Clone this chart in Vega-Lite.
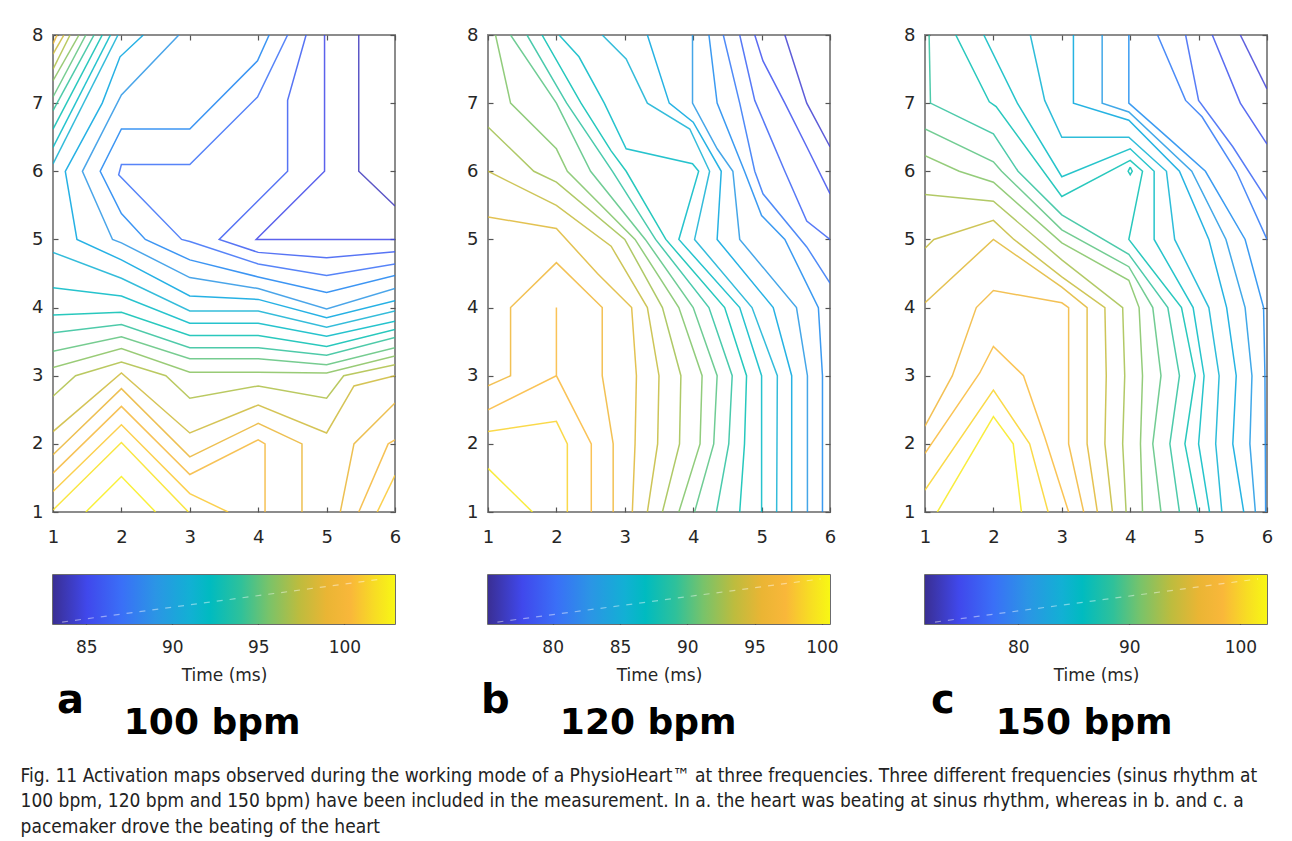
{
"$schema": "https://vega.github.io/schema/vega-lite/v6.json",
"background": "white",
"padding": {"left": 20, "top": 25, "right": 10, "bottom": 5},
"config": {"view": {"stroke": null}, "font": "DejaVu Sans"},
"datasets": {
"a": [
{"id":"a84","v":84,"x":5.47,"y":8},{"id":"a84","v":84,"x":5.47,"y":6},{"id":"a84","v":84,"x":6,"y":5.49},
{"id":"a85","v":85,"x":4.97,"y":8},{"id":"a85","v":85,"x":4.97,"y":6},{"id":"a85","v":85,"x":3.97,"y":5},{"id":"a85","v":85,"x":6,"y":5},
{"id":"a86","v":86,"x":4.7,"y":8},{"id":"a86","v":86,"x":4.43,"y":7.04},{"id":"a86","v":86,"x":4.43,"y":6},{"id":"a86","v":86,"x":3.43,"y":5},{"id":"a86","v":86,"x":4,"y":4.81},{"id":"a86","v":86,"x":5,"y":4.73},{"id":"a86","v":86,"x":6,"y":4.82},
{"id":"a87","v":87,"x":4.43,"y":8},{"id":"a87","v":87,"x":3.99,"y":7.09},{"id":"a87","v":87,"x":3,"y":6.1},{"id":"a87","v":87,"x":2,"y":6.1},{"id":"a87","v":87,"x":1.96,"y":5.95},{"id":"a87","v":87,"x":2.88,"y":5},{"id":"a87","v":87,"x":3,"y":4.97},{"id":"a87","v":87,"x":4,"y":4.64},{"id":"a87","v":87,"x":5,"y":4.47},{"id":"a87","v":87,"x":6,"y":4.64},
{"id":"a88","v":88,"x":4.16,"y":8},{"id":"a88","v":88,"x":3.99,"y":7.62},{"id":"a88","v":88,"x":3,"y":6.62},{"id":"a88","v":88,"x":2,"y":6.62},{"id":"a88","v":88,"x":1.69,"y":6},{"id":"a88","v":88,"x":2,"y":5.38},{"id":"a88","v":88,"x":2.35,"y":5},{"id":"a88","v":88,"x":3,"y":4.7},{"id":"a88","v":88,"x":4,"y":4.45},{"id":"a88","v":88,"x":5,"y":4.22},{"id":"a88","v":88,"x":6,"y":4.47},
{"id":"a89","v":89,"x":2.84,"y":8},{"id":"a89","v":89,"x":2,"y":7.12},{"id":"a89","v":89,"x":1.43,"y":6},{"id":"a89","v":89,"x":1.87,"y":5},{"id":"a89","v":89,"x":2,"y":4.95},{"id":"a89","v":89,"x":3,"y":4.44},{"id":"a89","v":89,"x":4,"y":4.28},{"id":"a89","v":89,"x":5,"y":3.98},{"id":"a89","v":89,"x":6,"y":4.28},
{"id":"a90","v":90,"x":2.32,"y":8},{"id":"a90","v":90,"x":1.98,"y":7.68},{"id":"a90","v":90,"x":1.72,"y":7},{"id":"a90","v":90,"x":1.18,"y":6},{"id":"a90","v":90,"x":1.35,"y":5},{"id":"a90","v":90,"x":2,"y":4.7},{"id":"a90","v":90,"x":3,"y":4.17},{"id":"a90","v":90,"x":4,"y":4.12},{"id":"a90","v":90,"x":5,"y":3.85},{"id":"a90","v":90,"x":6,"y":4.1},
{"id":"a91","v":91,"x":1,"y":4.81},{"id":"a91","v":91,"x":2,"y":4.43},{"id":"a91","v":91,"x":3,"y":3.95},{"id":"a91","v":91,"x":4,"y":3.95},{"id":"a91","v":91,"x":5,"y":3.71},{"id":"a91","v":91,"x":6,"y":3.95},
{"id":"a92","v":92,"x":1,"y":4.29},{"id":"a92","v":92,"x":2,"y":4.17},{"id":"a92","v":92,"x":3,"y":3.77},{"id":"a92","v":92,"x":4,"y":3.77},{"id":"a92","v":92,"x":5,"y":3.58},{"id":"a92","v":92,"x":6,"y":3.8},
{"id":"a93","v":93,"x":1,"y":3.89},{"id":"a93","v":93,"x":2,"y":3.93},{"id":"a93","v":93,"x":3,"y":3.59},{"id":"a93","v":93,"x":4,"y":3.59},{"id":"a93","v":93,"x":5,"y":3.43},{"id":"a93","v":93,"x":6,"y":3.68},
{"id":"a94","v":94,"x":1,"y":3.63},{"id":"a94","v":94,"x":2,"y":3.75},{"id":"a94","v":94,"x":3,"y":3.41},{"id":"a94","v":94,"x":4,"y":3.41},{"id":"a94","v":94,"x":5,"y":3.3},{"id":"a94","v":94,"x":6,"y":3.56},
{"id":"a95","v":95,"x":1,"y":3.36},{"id":"a95","v":95,"x":2,"y":3.57},{"id":"a95","v":95,"x":3,"y":3.25},{"id":"a95","v":95,"x":4,"y":3.25},{"id":"a95","v":95,"x":5,"y":3.16},{"id":"a95","v":95,"x":6,"y":3.41},
{"id":"a96","v":96,"x":1,"y":3.12},{"id":"a96","v":96,"x":2,"y":3.4},{"id":"a96","v":96,"x":3,"y":3.05},{"id":"a96","v":96,"x":4,"y":3.05},{"id":"a96","v":96,"x":5,"y":3.04},{"id":"a96","v":96,"x":6,"y":3.29},
{"id":"a97","v":97,"x":1,"y":2.7},{"id":"a97","v":97,"x":1.33,"y":3},{"id":"a97","v":97,"x":2,"y":3.2},{"id":"a97","v":97,"x":2.65,"y":3},{"id":"a97","v":97,"x":3,"y":2.67},{"id":"a97","v":97,"x":4,"y":2.85},{"id":"a97","v":97,"x":5,"y":2.67},{"id":"a97","v":97,"x":5.25,"y":3},{"id":"a97","v":97,"x":6,"y":3.16},
{"id":"a98","v":98,"x":1,"y":2.18},{"id":"a98","v":98,"x":2,"y":3.04},{"id":"a98","v":98,"x":3,"y":2.16},{"id":"a98","v":98,"x":4,"y":2.57},{"id":"a98","v":98,"x":5,"y":2.16},{"id":"a98","v":98,"x":5.4,"y":2.85},{"id":"a98","v":98,"x":6,"y":3},
{"id":"a99a","v":99,"x":1,"y":1.84},{"id":"a99a","v":99,"x":2,"y":2.81},{"id":"a99a","v":99,"x":3,"y":1.81},{"id":"a99a","v":99,"x":4,"y":2.3},{"id":"a99a","v":99,"x":4.64,"y":2},{"id":"a99a","v":99,"x":4.64,"y":1},
{"id":"a99b","v":99,"x":5.2,"y":1},{"id":"a99b","v":99,"x":5.4,"y":2},{"id":"a99b","v":99,"x":6,"y":2.6},
{"id":"a100a","v":100,"x":1,"y":1.57},{"id":"a100a","v":100,"x":2,"y":2.55},{"id":"a100a","v":100,"x":3,"y":1.55},{"id":"a100a","v":100,"x":4,"y":2.06},{"id":"a100a","v":100,"x":4.1,"y":2},{"id":"a100a","v":100,"x":4.1,"y":1},
{"id":"a100b","v":100,"x":5.47,"y":1},{"id":"a100b","v":100,"x":5.9,"y":2},{"id":"a100b","v":100,"x":6,"y":2.06},
{"id":"a101a","v":101,"x":1,"y":1.3},{"id":"a101a","v":101,"x":2,"y":2.28},{"id":"a101a","v":101,"x":3,"y":1.27},{"id":"a101a","v":101,"x":3.56,"y":1},
{"id":"a101b","v":101,"x":5.74,"y":1},{"id":"a101b","v":101,"x":6,"y":1.54},
{"id":"a102","v":102,"x":1,"y":1.03},{"id":"a102","v":102,"x":2,"y":2.02},{"id":"a102","v":102,"x":2.98,"y":1},
{"id":"a103","v":102.5,"x":1.48,"y":1},{"id":"a103","v":102.5,"x":2,"y":1.52},{"id":"a103","v":102.5,"x":2.5,"y":1},
{"id":"k91","v":91,"x":1,"y":6.11},{"id":"k91","v":91,"x":1.95,"y":8},
{"id":"k92","v":92,"x":1,"y":6.35},{"id":"k92","v":92,"x":1.84,"y":8},
{"id":"k93","v":93,"x":1,"y":6.62},{"id":"k93","v":93,"x":1.72,"y":8},
{"id":"k94","v":94,"x":1,"y":6.89},{"id":"k94","v":94,"x":1.6,"y":8},
{"id":"k95","v":95,"x":1,"y":7.09},{"id":"k95","v":95,"x":1.48,"y":8},
{"id":"k96","v":96,"x":1,"y":7.33},{"id":"k96","v":96,"x":1.38,"y":8},
{"id":"k97","v":97,"x":1,"y":7.5},{"id":"k97","v":97,"x":1.25,"y":8},
{"id":"k98","v":98,"x":1,"y":7.72},{"id":"k98","v":98,"x":1.16,"y":8},
{"id":"k99","v":99,"x":1,"y":7.87},{"id":"k99","v":99,"x":1.06,"y":8}
],
"b": [
{"id":"b1","v":77,"x":5.34,"y":8},{"id":"b1","v":77,"x":5.66,"y":7},{"id":"b1","v":77,"x":6,"y":6.36},
{"id":"b2","v":78.2,"x":4.9,"y":8},{"id":"b2","v":78.2,"x":5.02,"y":7.62},{"id":"b2","v":78.2,"x":5.34,"y":7},{"id":"b2","v":78.2,"x":5.66,"y":6.36},{"id":"b2","v":78.2,"x":6,"y":5.67},
{"id":"b3","v":79.4,"x":4.68,"y":8},{"id":"b3","v":79.4,"x":4.9,"y":7.04},{"id":"b3","v":79.4,"x":5.34,"y":6},{"id":"b3","v":79.4,"x":5.66,"y":5.27},{"id":"b3","v":79.4,"x":6,"y":5},
{"id":"b4","v":80.6,"x":4.44,"y":8},{"id":"b4","v":80.6,"x":4.68,"y":7},{"id":"b4","v":80.6,"x":4.9,"y":6},{"id":"b4","v":80.6,"x":5.02,"y":5.67},{"id":"b4","v":80.6,"x":5.66,"y":4.89},{"id":"b4","v":80.6,"x":6,"y":4.36},
{"id":"b5","v":81.8,"x":4.23,"y":8},{"id":"b5","v":81.8,"x":4.35,"y":7},{"id":"b5","v":81.8,"x":4.75,"y":6},{"id":"b5","v":81.8,"x":5,"y":5.35},{"id":"b5","v":81.8,"x":5.34,"y":5},{"id":"b5","v":81.8,"x":5.83,"y":4},{"id":"b5","v":81.8,"x":5.89,"y":3},{"id":"b5","v":81.8,"x":5.89,"y":1},
{"id":"b6","v":83,"x":3.99,"y":8},{"id":"b6","v":83,"x":3.99,"y":7},{"id":"b6","v":83,"x":4.35,"y":6.33},{"id":"b6","v":83,"x":4.58,"y":6},{"id":"b6","v":83,"x":4.68,"y":5},{"id":"b6","v":83,"x":5.51,"y":4},{"id":"b6","v":83,"x":5.67,"y":3},{"id":"b6","v":83,"x":5.67,"y":1},
{"id":"b7","v":84.2,"x":3.33,"y":8},{"id":"b7","v":84.2,"x":3.65,"y":7},{"id":"b7","v":84.2,"x":4,"y":6.72},{"id":"b7","v":84.2,"x":4.41,"y":6},{"id":"b7","v":84.2,"x":4.35,"y":5},{"id":"b7","v":84.2,"x":5.17,"y":4},{"id":"b7","v":84.2,"x":5.44,"y":3},{"id":"b7","v":84.2,"x":5.44,"y":1},
{"id":"b8","v":85.4,"x":2.67,"y":8},{"id":"b8","v":85.4,"x":3.02,"y":7.65},{"id":"b8","v":85.4,"x":3.33,"y":7},{"id":"b8","v":85.4,"x":3.95,"y":6.62},{"id":"b8","v":85.4,"x":4.24,"y":6},{"id":"b8","v":85.4,"x":4.02,"y":5},{"id":"b8","v":85.4,"x":4.86,"y":4},{"id":"b8","v":85.4,"x":5.23,"y":3},{"id":"b8","v":85.4,"x":5.22,"y":1},
{"id":"b9","v":86.6,"x":2.04,"y":8},{"id":"b9","v":86.6,"x":2.33,"y":7.68},{"id":"b9","v":86.6,"x":2.7,"y":7},{"id":"b9","v":86.6,"x":3.02,"y":6.33},{"id":"b9","v":86.6,"x":3.99,"y":6.11},{"id":"b9","v":86.6,"x":4.08,"y":6},{"id":"b9","v":86.6,"x":3.79,"y":5},{"id":"b9","v":86.6,"x":4.68,"y":4},{"id":"b9","v":86.6,"x":5,"y":3},{"id":"b9","v":86.6,"x":5,"y":1},
{"id":"b10","v":87.8,"x":1.79,"y":8},{"id":"b10","v":87.8,"x":2.36,"y":7},{"id":"b10","v":87.8,"x":2.8,"y":6.3},{"id":"b10","v":87.8,"x":3.02,"y":6},{"id":"b10","v":87.8,"x":3.6,"y":5},{"id":"b10","v":87.8,"x":4.46,"y":4},{"id":"b10","v":87.8,"x":4.78,"y":3},{"id":"b10","v":87.8,"x":4.75,"y":2},{"id":"b10","v":87.8,"x":4.68,"y":1},
{"id":"b11","v":89,"x":1.57,"y":8},{"id":"b11","v":89,"x":2.15,"y":7},{"id":"b11","v":89,"x":2.82,"y":6},{"id":"b11","v":89,"x":3.45,"y":5},{"id":"b11","v":89,"x":4.23,"y":4},{"id":"b11","v":89,"x":4.57,"y":3},{"id":"b11","v":89,"x":4.52,"y":2},{"id":"b11","v":89,"x":4.34,"y":1},
{"id":"b12","v":90.2,"x":1.33,"y":8},{"id":"b12","v":90.2,"x":2,"y":7},{"id":"b12","v":90.2,"x":2.5,"y":6},{"id":"b12","v":90.2,"x":3.3,"y":5},{"id":"b12","v":90.2,"x":4,"y":4},{"id":"b12","v":90.2,"x":4.35,"y":3},{"id":"b12","v":90.2,"x":4.3,"y":2},{"id":"b12","v":90.2,"x":4.02,"y":1},
{"id":"b13","v":91.4,"x":1.11,"y":8},{"id":"b13","v":91.4,"x":1.33,"y":7},{"id":"b13","v":91.4,"x":2,"y":6.33},{"id":"b13","v":91.4,"x":2.16,"y":6},{"id":"b13","v":91.4,"x":3.15,"y":5},{"id":"b13","v":91.4,"x":3.79,"y":4},{"id":"b13","v":91.4,"x":4.13,"y":3},{"id":"b13","v":91.4,"x":4.1,"y":2},{"id":"b13","v":91.4,"x":3.79,"y":1},
{"id":"b14","v":92.6,"x":1,"y":6.65},{"id":"b14","v":92.6,"x":1.67,"y":6},{"id":"b14","v":92.6,"x":2,"y":5.84},{"id":"b14","v":92.6,"x":3,"y":5},{"id":"b14","v":92.6,"x":3.55,"y":4},{"id":"b14","v":92.6,"x":3.82,"y":3},{"id":"b14","v":92.6,"x":3.8,"y":2},{"id":"b14","v":92.6,"x":3.55,"y":1},
{"id":"b15","v":93.8,"x":1,"y":6},{"id":"b15","v":93.8,"x":2,"y":5.5},{"id":"b15","v":93.8,"x":2.8,"y":4.9},{"id":"b15","v":93.8,"x":3.33,"y":4},{"id":"b15","v":93.8,"x":3.5,"y":3},{"id":"b15","v":93.8,"x":3.48,"y":2},{"id":"b15","v":93.8,"x":3.33,"y":1},
{"id":"b16","v":95,"x":1,"y":5.33},{"id":"b16","v":95,"x":2,"y":5.16},{"id":"b16","v":95,"x":2.6,"y":4.5},{"id":"b16","v":95,"x":3.1,"y":4},{"id":"b16","v":95,"x":3.17,"y":3},{"id":"b16","v":95,"x":3.15,"y":2},{"id":"b16","v":95,"x":3.11,"y":1},
{"id":"b17","v":96.2,"x":1,"y":2.85},{"id":"b17","v":96.2,"x":1.33,"y":3},{"id":"b17","v":96.2,"x":1.33,"y":4},{"id":"b17","v":96.2,"x":2,"y":4.66},{"id":"b17","v":96.2,"x":2.67,"y":4},{"id":"b17","v":96.2,"x":2.67,"y":3},{"id":"b17","v":96.2,"x":2.83,"y":2},{"id":"b17","v":96.2,"x":2.83,"y":1},
{"id":"b18","v":97.4,"x":1,"y":2.5},{"id":"b18","v":97.4,"x":2,"y":3},{"id":"b18","v":97.4,"x":2,"y":4},{"id":"b18","v":97.4,"x":2,"y":3},{"id":"b18","v":97.4,"x":2.51,"y":2},{"id":"b18","v":97.4,"x":2.51,"y":1},
{"id":"b19","v":98.6,"x":1,"y":2.18},{"id":"b19","v":98.6,"x":2,"y":2.33},{"id":"b19","v":98.6,"x":2.16,"y":2},{"id":"b19","v":98.6,"x":2.16,"y":1},
{"id":"b20","v":99.8,"x":1,"y":1.64},{"id":"b20","v":99.8,"x":1.65,"y":1}
],
"c": [
{"id":"c1","v":74,"x":5.61,"y":8},{"id":"c1","v":74,"x":6,"y":7.21},
{"id":"c2","v":75.4,"x":5.2,"y":8},{"id":"c2","v":75.4,"x":5.61,"y":7},{"id":"c2","v":75.4,"x":6,"y":6.4},
{"id":"c3","v":76.9,"x":4.81,"y":8},{"id":"c3","v":76.9,"x":5,"y":7.04},{"id":"c3","v":76.9,"x":5.5,"y":6.36},{"id":"c3","v":76.9,"x":6,"y":5.58},
{"id":"c4","v":78.3,"x":4.4,"y":8},{"id":"c4","v":78.3,"x":4.81,"y":7.04},{"id":"c4","v":78.3,"x":5.05,"y":6.8},{"id":"c4","v":78.3,"x":5.55,"y":6},{"id":"c4","v":78.3,"x":6,"y":5},
{"id":"c5","v":79.8,"x":3.98,"y":8},{"id":"c5","v":79.8,"x":3.98,"y":7},{"id":"c5","v":79.8,"x":4.6,"y":6.45},{"id":"c5","v":79.8,"x":5.1,"y":6},{"id":"c5","v":79.8,"x":5.68,"y":5},{"id":"c5","v":79.8,"x":5.95,"y":4},{"id":"c5","v":79.8,"x":5.97,"y":3},{"id":"c5","v":79.8,"x":5.98,"y":1},
{"id":"c6","v":81.2,"x":3.59,"y":8},{"id":"c6","v":81.2,"x":3.59,"y":7},{"id":"c6","v":81.2,"x":3.98,"y":6.87},{"id":"c6","v":81.2,"x":4.9,"y":6},{"id":"c6","v":81.2,"x":5.4,"y":5},{"id":"c6","v":81.2,"x":5.68,"y":4},{"id":"c6","v":81.2,"x":5.78,"y":3},{"id":"c6","v":81.2,"x":5.75,"y":2},{"id":"c6","v":81.2,"x":5.83,"y":1},
{"id":"c7","v":82.7,"x":3.17,"y":8},{"id":"c7","v":82.7,"x":3.17,"y":7},{"id":"c7","v":82.7,"x":3.98,"y":6.75},{"id":"c7","v":82.7,"x":4.72,"y":6},{"id":"c7","v":82.7,"x":5.15,"y":5},{"id":"c7","v":82.7,"x":5.41,"y":4},{"id":"c7","v":82.7,"x":5.55,"y":3},{"id":"c7","v":82.7,"x":5.5,"y":2},{"id":"c7","v":82.7,"x":5.66,"y":1},
{"id":"c8","v":84.1,"x":2.54,"y":8},{"id":"c8","v":84.1,"x":2.75,"y":7.04},{"id":"c8","v":84.1,"x":3,"y":6.5},{"id":"c8","v":84.1,"x":3.98,"y":6.5},{"id":"c8","v":84.1,"x":4.53,"y":6},{"id":"c8","v":84.1,"x":4.65,"y":5},{"id":"c8","v":84.1,"x":5.15,"y":4},{"id":"c8","v":84.1,"x":5.3,"y":3},{"id":"c8","v":84.1,"x":5.25,"y":2},{"id":"c8","v":84.1,"x":5.34,"y":1},
{"id":"c9","v":85.6,"x":1.86,"y":8},{"id":"c9","v":85.6,"x":2.35,"y":7},{"id":"c9","v":85.6,"x":3,"y":5.92},{"id":"c9","v":85.6,"x":4,"y":6.33},{"id":"c9","v":85.6,"x":4.35,"y":6},{"id":"c9","v":85.6,"x":4.35,"y":5},{"id":"c9","v":85.6,"x":4.92,"y":4},{"id":"c9","v":85.6,"x":5.08,"y":3},{"id":"c9","v":85.6,"x":5,"y":2},{"id":"c9","v":85.6,"x":5.16,"y":1},
{"id":"c10","v":87,"x":1.45,"y":8},{"id":"c10","v":87,"x":1.94,"y":7.02},{"id":"c10","v":87,"x":2.04,"y":6.95},{"id":"c10","v":87,"x":3,"y":5.63},{"id":"c10","v":87,"x":4,"y":6.16},{"id":"c10","v":87,"x":4.18,"y":6},{"id":"c10","v":87,"x":3.98,"y":5},{"id":"c10","v":87,"x":4.75,"y":4},{"id":"c10","v":87,"x":4.95,"y":3},{"id":"c10","v":87,"x":4.8,"y":2},{"id":"c10","v":87,"x":4.99,"y":1},
{"id":"c11","v":88.5,"x":1.06,"y":8},{"id":"c11","v":88.5,"x":1.08,"y":7},{"id":"c11","v":88.5,"x":2,"y":6.55},{"id":"c11","v":88.5,"x":2.36,"y":6},{"id":"c11","v":88.5,"x":3,"y":5.36},{"id":"c11","v":88.5,"x":3.98,"y":4.78},{"id":"c11","v":88.5,"x":4.55,"y":4},{"id":"c11","v":88.5,"x":4.72,"y":3},{"id":"c11","v":88.5,"x":4.58,"y":2},{"id":"c11","v":88.5,"x":4.72,"y":1},
{"id":"c12","v":89.9,"x":1,"y":6.62},{"id":"c12","v":89.9,"x":2,"y":6.14},{"id":"c12","v":89.9,"x":2.12,"y":6},{"id":"c12","v":89.9,"x":3,"y":5.14},{"id":"c12","v":89.9,"x":3.98,"y":4.6},{"id":"c12","v":89.9,"x":4.33,"y":4},{"id":"c12","v":89.9,"x":4.45,"y":3},{"id":"c12","v":89.9,"x":4.33,"y":2},{"id":"c12","v":89.9,"x":4.45,"y":1},
{"id":"c13","v":91.4,"x":1,"y":6.23},{"id":"c13","v":91.4,"x":1.5,"y":6},{"id":"c13","v":91.4,"x":2,"y":5.84},{"id":"c13","v":91.4,"x":3,"y":4.95},{"id":"c13","v":91.4,"x":3.98,"y":4.4},{"id":"c13","v":91.4,"x":4.13,"y":4},{"id":"c13","v":91.4,"x":4.18,"y":3},{"id":"c13","v":91.4,"x":4.15,"y":2},{"id":"c13","v":91.4,"x":4.18,"y":1},
{"id":"c14","v":92.8,"x":1,"y":5.66},{"id":"c14","v":92.8,"x":2,"y":5.56},{"id":"c14","v":92.8,"x":3,"y":4.7},{"id":"c14","v":92.8,"x":3.89,"y":4},{"id":"c14","v":92.8,"x":3.92,"y":3},{"id":"c14","v":92.8,"x":3.89,"y":2},{"id":"c14","v":92.8,"x":3.94,"y":1},
{"id":"c15","v":94.3,"x":1,"y":4.87},{"id":"c15","v":94.3,"x":1.13,"y":5},{"id":"c15","v":94.3,"x":2,"y":5.28},{"id":"c15","v":94.3,"x":2.3,"y":5},{"id":"c15","v":94.3,"x":3,"y":4.45},{"id":"c15","v":94.3,"x":3.63,"y":4},{"id":"c15","v":94.3,"x":3.65,"y":3},{"id":"c15","v":94.3,"x":3.63,"y":2},{"id":"c15","v":94.3,"x":3.74,"y":1},
{"id":"c16","v":95.7,"x":1,"y":4.07},{"id":"c16","v":95.7,"x":2,"y":5},{"id":"c16","v":95.7,"x":3,"y":4.3},{"id":"c16","v":95.7,"x":3.37,"y":4},{"id":"c16","v":95.7,"x":3.37,"y":2},{"id":"c16","v":95.7,"x":3.52,"y":1},
{"id":"c17","v":97.2,"x":1,"y":2.26},{"id":"c17","v":97.2,"x":1.4,"y":3},{"id":"c17","v":97.2,"x":1.75,"y":4},{"id":"c17","v":97.2,"x":2,"y":4.25},{"id":"c17","v":97.2,"x":3,"y":4.07},{"id":"c17","v":97.2,"x":3.1,"y":4},{"id":"c17","v":97.2,"x":3.1,"y":2},{"id":"c17","v":97.2,"x":3.32,"y":1},
{"id":"c18","v":98.6,"x":1,"y":1.86},{"id":"c18","v":98.6,"x":1.8,"y":3.04},{"id":"c18","v":98.6,"x":2,"y":3.43},{"id":"c18","v":98.6,"x":2.44,"y":3},{"id":"c18","v":98.6,"x":2.75,"y":2.1},{"id":"c18","v":98.6,"x":3.1,"y":1},
{"id":"c19","v":100.1,"x":1,"y":1.32},{"id":"c19","v":100.1,"x":2,"y":2.79},{"id":"c19","v":100.1,"x":2.53,"y":2},{"id":"c19","v":100.1,"x":2.8,"y":1},
{"id":"c20","v":101.5,"x":1.18,"y":1},{"id":"c20","v":101.5,"x":2,"y":2.4},{"id":"c20","v":101.5,"x":2.29,"y":2},{"id":"c20","v":101.5,"x":2.41,"y":1},
{"id":"c21","v":87,"x":4,"y":6.06},{"id":"c21","v":87,"x":4.03,"y":6},{"id":"c21","v":87,"x":4,"y":5.95},{"id":"c21","v":87,"x":3.97,"y":6},{"id":"c21","v":87,"x":4,"y":6.06}
]
},
"title": {
"text": ["Fig. 11 Activation maps observed during the working mode of a PhysioHeart™ at three frequencies. Three different frequencies (sinus rhythm at", "100 bpm, 120 bpm and 150 bpm) have been included in the measurement. In a. the heart was beating at sinus rhythm, whereas in b. and c. a", "pacemaker drove the beating of the heart"],
"orient": "bottom", "anchor": "start", "font": "DejaVu Sans Condensed", "fontSize": 19, "fontWeight": "normal", "color": "#222222", "lineHeight": 25.5, "offset": 26, "dx": -10
},
"resolve": {"scale": {"color": "independent"}},
"spacing": 63,
"hconcat": [
{
"spacing": 27,
"resolve": {"scale": {"color": "independent"}},
"title": {"text": "100 bpm", "orient": "bottom", "anchor": "middle", "font": "DejaVu Sans", "fontWeight": "bold", "fontSize": 36, "color": "#000000", "dx": -4, "offset": -16},
"vconcat": [
{
"width": 342, "height": 477,
"view": {"stroke": "#8c8c8c", "strokeWidth": 2},
"data": {"name": "a"},
"layer": [
{"mark": {"type": "line", "strokeWidth": 1.5, "opacity": 0.85, "clip": true},
"encoding": {
"x": {"field": "x", "type": "quantitative", "scale": {"domain": [1, 6], "nice": false, "zero": false}, "axis": {"values": [1,2,3,4,5,6], "format": "d", "title": null, "domain": false, "grid": false, "tickSize": -5, "tickColor": "#555555", "tickWidth": 1.2, "labelFont": "DejaVu Sans", "labelFontSize": 18, "labelColor": "#262626", "labelPadding": 21, "labelFlush": false}},
"y": {"field": "y", "type": "quantitative", "scale": {"domain": [1, 8], "nice": false, "zero": false}, "axis": {"values": [1,2,3,4,5,6,7,8], "format": "d", "title": null, "domain": false, "grid": false, "tickSize": -5, "tickColor": "#555555", "tickWidth": 1.2, "labelFont": "DejaVu Sans", "labelFontSize": 18, "labelColor": "#262626", "labelPadding": 15, "labelFlush": false}},
"detail": {"field": "id", "type": "nominal"},
"order": {"value": null},
"color": {"field": "v", "type": "quantitative", "legend": null, "scale": {"domain": [83.07,85.06,87.04,89.03,91.02,92.21,94.0,95.59,97.38,98.97,100.36,101.75,102.94], "range": ["#3a2f94","#4048ec","#3a6ff7","#2b95e5","#12b0d4","#00bbc0","#2fc19a","#78c36a","#bdbc3e","#eab534","#f9b73a","#f7dc24","#f8f714"]}}
}},
{"mark": {"type": "point", "opacity": 0},
"encoding": {
"x": {"field": "x", "type": "quantitative", "axis": {"orient": "top", "values": [1,2,3,4,5,6], "labels": false, "title": null, "domain": false, "grid": false, "tickSize": -5, "tickColor": "#555555", "tickWidth": 1.2}},
"y": {"field": "y", "type": "quantitative", "axis": {"orient": "right", "values": [1,2,3,4,5,6,7,8], "labels": false, "title": null, "domain": false, "grid": false, "tickSize": -5, "tickColor": "#555555", "tickWidth": 1.2}}
}}
],
"resolve": {"axis": {"x": "independent", "y": "independent"}}
},
{
"width": 342, "height": 49,
"view": {"stroke": "#3c3c3c", "strokeWidth": 1.5},
"title": {"text": "a", "orient": "bottom", "anchor": "start", "font": "DejaVu Sans", "fontWeight": "bold", "fontSize": 40, "color": "#000000", "dx": 4, "offset": -2},
"data": {"values": [{"lo": 83.07, "hi": 102.94, "d0": 83.6, "d1": 102.2, "f0": 0.04, "f1": 0.92}]},
"layer": [
{"mark": {"type": "rect", "color": {"gradient": "linear", "x1": 0, "x2": 1, "y1": 0, "y2": 0, "stops": [{"offset":0,"color":"#3a2f94"},{"offset":0.1,"color":"#4048ec"},{"offset":0.2,"color":"#3a6ff7"},{"offset":0.3,"color":"#2b95e5"},{"offset":0.4,"color":"#12b0d4"},{"offset":0.46,"color":"#00bbc0"},{"offset":0.55,"color":"#2fc19a"},{"offset":0.63,"color":"#78c36a"},{"offset":0.72,"color":"#bdbc3e"},{"offset":0.8,"color":"#eab534"},{"offset":0.87,"color":"#f9b73a"},{"offset":0.94,"color":"#f7dc24"},{"offset":1,"color":"#f8f714"}]}},
"encoding": {
"x": {"field": "lo", "type": "quantitative", "scale": {"domain": [83.07, 102.94], "nice": false, "zero": false}, "axis": {"values": [85,90,95,100], "title": "Time (ms)", "titleFont": "DejaVu Sans", "titleFontSize": 17, "titleFontWeight": "normal", "titleColor": "#262626", "titlePadding": 12, "domain": false, "grid": false, "tickSize": -5, "tickColor": "#333333", "tickWidth": 1.2, "labelFont": "DejaVu Sans", "labelFontSize": 17, "labelColor": "#262626", "labelPadding": 20, "labelFlush": false}},
"x2": {"field": "hi"},
"y": {"datum": 0, "type": "quantitative", "scale": {"domain": [0, 1], "nice": false}, "axis": null},
"y2": {"datum": 1}
}},
{"mark": {"type": "rule", "color": "white", "opacity": 0.45, "strokeDash": [6, 7], "strokeWidth": 1.2},
"encoding": {"x": {"field": "d0", "type": "quantitative"}, "x2": {"field": "d1"}, "y": {"field": "f0", "type": "quantitative"}, "y2": {"field": "f1"}}}
]
}
]
},
{
"spacing": 27,
"resolve": {"scale": {"color": "independent"}},
"title": {"text": "120 bpm", "orient": "bottom", "anchor": "middle", "font": "DejaVu Sans", "fontWeight": "bold", "fontSize": 36, "color": "#000000", "dx": -4, "offset": -16},
"vconcat": [
{
"width": 342, "height": 477,
"view": {"stroke": "#8c8c8c", "strokeWidth": 2},
"data": {"name": "b"},
"layer": [
{"mark": {"type": "line", "strokeWidth": 1.5, "opacity": 0.85, "clip": true},
"encoding": {
"x": {"field": "x", "type": "quantitative", "scale": {"domain": [1, 6], "nice": false, "zero": false}, "axis": {"values": [1,2,3,4,5,6], "format": "d", "title": null, "domain": false, "grid": false, "tickSize": -5, "tickColor": "#555555", "tickWidth": 1.2, "labelFont": "DejaVu Sans", "labelFontSize": 18, "labelColor": "#262626", "labelPadding": 21, "labelFlush": false}},
"y": {"field": "y", "type": "quantitative", "scale": {"domain": [1, 8], "nice": false, "zero": false}, "axis": {"values": [1,2,3,4,5,6,7,8], "format": "d", "title": null, "domain": false, "grid": false, "tickSize": -5, "tickColor": "#555555", "tickWidth": 1.2, "labelFont": "DejaVu Sans", "labelFontSize": 18, "labelColor": "#262626", "labelPadding": 15, "labelFlush": false}},
"detail": {"field": "id", "type": "nominal"},
"order": {"value": null},
"color": {"field": "v", "type": "quantitative", "legend": null, "scale": {"domain": [75.2,77.74,80.28,82.82,85.36,86.88,89.17,91.2,93.49,95.52,97.3,99.08,100.6], "range": ["#3a2f94","#4048ec","#3a6ff7","#2b95e5","#12b0d4","#00bbc0","#2fc19a","#78c36a","#bdbc3e","#eab534","#f9b73a","#f7dc24","#f8f714"]}}
}},
{"mark": {"type": "point", "opacity": 0},
"encoding": {
"x": {"field": "x", "type": "quantitative", "axis": {"orient": "top", "values": [1,2,3,4,5,6], "labels": false, "title": null, "domain": false, "grid": false, "tickSize": -5, "tickColor": "#555555", "tickWidth": 1.2}},
"y": {"field": "y", "type": "quantitative", "axis": {"orient": "right", "values": [1,2,3,4,5,6,7,8], "labels": false, "title": null, "domain": false, "grid": false, "tickSize": -5, "tickColor": "#555555", "tickWidth": 1.2}}
}}
],
"resolve": {"axis": {"x": "independent", "y": "independent"}}
},
{
"width": 342, "height": 49,
"view": {"stroke": "#3c3c3c", "strokeWidth": 1.5},
"title": {"text": "b", "orient": "bottom", "anchor": "start", "font": "DejaVu Sans", "fontWeight": "bold", "fontSize": 40, "color": "#000000", "dx": -7, "offset": -2},
"data": {"values": [{"lo": 75.2, "hi": 100.6, "d0": 75.9, "d1": 99.9, "f0": 0.04, "f1": 0.92}]},
"layer": [
{"mark": {"type": "rect", "color": {"gradient": "linear", "x1": 0, "x2": 1, "y1": 0, "y2": 0, "stops": [{"offset":0,"color":"#3a2f94"},{"offset":0.1,"color":"#4048ec"},{"offset":0.2,"color":"#3a6ff7"},{"offset":0.3,"color":"#2b95e5"},{"offset":0.4,"color":"#12b0d4"},{"offset":0.46,"color":"#00bbc0"},{"offset":0.55,"color":"#2fc19a"},{"offset":0.63,"color":"#78c36a"},{"offset":0.72,"color":"#bdbc3e"},{"offset":0.8,"color":"#eab534"},{"offset":0.87,"color":"#f9b73a"},{"offset":0.94,"color":"#f7dc24"},{"offset":1,"color":"#f8f714"}]}},
"encoding": {
"x": {"field": "lo", "type": "quantitative", "scale": {"domain": [75.2, 100.6], "nice": false, "zero": false}, "axis": {"values": [80,85,90,95,100], "title": "Time (ms)", "titleFont": "DejaVu Sans", "titleFontSize": 17, "titleFontWeight": "normal", "titleColor": "#262626", "titlePadding": 12, "domain": false, "grid": false, "tickSize": -5, "tickColor": "#333333", "tickWidth": 1.2, "labelFont": "DejaVu Sans", "labelFontSize": 17, "labelColor": "#262626", "labelPadding": 20, "labelFlush": false}},
"x2": {"field": "hi"},
"y": {"datum": 0, "type": "quantitative", "scale": {"domain": [0, 1], "nice": false}, "axis": null},
"y2": {"datum": 1}
}},
{"mark": {"type": "rule", "color": "white", "opacity": 0.45, "strokeDash": [6, 7], "strokeWidth": 1.2},
"encoding": {"x": {"field": "d0", "type": "quantitative"}, "x2": {"field": "d1"}, "y": {"field": "f0", "type": "quantitative"}, "y2": {"field": "f1"}}}
]
}
]
},
{
"spacing": 27,
"resolve": {"scale": {"color": "independent"}},
"title": {"text": "150 bpm", "orient": "bottom", "anchor": "middle", "font": "DejaVu Sans", "fontWeight": "bold", "fontSize": 36, "color": "#000000", "dx": -4, "offset": -16},
"vconcat": [
{
"width": 342, "height": 477,
"view": {"stroke": "#8c8c8c", "strokeWidth": 2},
"data": {"name": "c"},
"layer": [
{"mark": {"type": "line", "strokeWidth": 1.5, "opacity": 0.85, "clip": true},
"encoding": {
"x": {"field": "x", "type": "quantitative", "scale": {"domain": [1, 6], "nice": false, "zero": false}, "axis": {"values": [1,2,3,4,5,6], "format": "d", "title": null, "domain": false, "grid": false, "tickSize": -5, "tickColor": "#555555", "tickWidth": 1.2, "labelFont": "DejaVu Sans", "labelFontSize": 18, "labelColor": "#262626", "labelPadding": 21, "labelFlush": false}},
"y": {"field": "y", "type": "quantitative", "scale": {"domain": [1, 8], "nice": false, "zero": false}, "axis": {"values": [1,2,3,4,5,6,7,8], "format": "d", "title": null, "domain": false, "grid": false, "tickSize": -5, "tickColor": "#555555", "tickWidth": 1.2, "labelFont": "DejaVu Sans", "labelFontSize": 18, "labelColor": "#262626", "labelPadding": 15, "labelFlush": false}},
"detail": {"field": "id", "type": "nominal"},
"order": {"value": null},
"color": {"field": "v", "type": "quantitative", "legend": null, "scale": {"domain": [71.6,74.68,77.76,80.84,83.92,85.77,88.54,91.0,93.78,96.24,98.4,100.55,102.4], "range": ["#3a2f94","#4048ec","#3a6ff7","#2b95e5","#12b0d4","#00bbc0","#2fc19a","#78c36a","#bdbc3e","#eab534","#f9b73a","#f7dc24","#f8f714"]}}
}},
{"mark": {"type": "point", "opacity": 0},
"encoding": {
"x": {"field": "x", "type": "quantitative", "axis": {"orient": "top", "values": [1,2,3,4,5,6], "labels": false, "title": null, "domain": false, "grid": false, "tickSize": -5, "tickColor": "#555555", "tickWidth": 1.2}},
"y": {"field": "y", "type": "quantitative", "axis": {"orient": "right", "values": [1,2,3,4,5,6,7,8], "labels": false, "title": null, "domain": false, "grid": false, "tickSize": -5, "tickColor": "#555555", "tickWidth": 1.2}}
}}
],
"resolve": {"axis": {"x": "independent", "y": "independent"}}
},
{
"width": 342, "height": 49,
"view": {"stroke": "#3c3c3c", "strokeWidth": 1.5},
"title": {"text": "c", "orient": "bottom", "anchor": "start", "font": "DejaVu Sans", "fontWeight": "bold", "fontSize": 40, "color": "#000000", "dx": 6, "offset": -2},
"data": {"values": [{"lo": 71.6, "hi": 102.4, "d0": 72.5, "d1": 101.6, "f0": 0.04, "f1": 0.92}]},
"layer": [
{"mark": {"type": "rect", "color": {"gradient": "linear", "x1": 0, "x2": 1, "y1": 0, "y2": 0, "stops": [{"offset":0,"color":"#3a2f94"},{"offset":0.1,"color":"#4048ec"},{"offset":0.2,"color":"#3a6ff7"},{"offset":0.3,"color":"#2b95e5"},{"offset":0.4,"color":"#12b0d4"},{"offset":0.46,"color":"#00bbc0"},{"offset":0.55,"color":"#2fc19a"},{"offset":0.63,"color":"#78c36a"},{"offset":0.72,"color":"#bdbc3e"},{"offset":0.8,"color":"#eab534"},{"offset":0.87,"color":"#f9b73a"},{"offset":0.94,"color":"#f7dc24"},{"offset":1,"color":"#f8f714"}]}},
"encoding": {
"x": {"field": "lo", "type": "quantitative", "scale": {"domain": [71.6, 102.4], "nice": false, "zero": false}, "axis": {"values": [80,90,100], "title": "Time (ms)", "titleFont": "DejaVu Sans", "titleFontSize": 17, "titleFontWeight": "normal", "titleColor": "#262626", "titlePadding": 12, "domain": false, "grid": false, "tickSize": -5, "tickColor": "#333333", "tickWidth": 1.2, "labelFont": "DejaVu Sans", "labelFontSize": 17, "labelColor": "#262626", "labelPadding": 20, "labelFlush": false}},
"x2": {"field": "hi"},
"y": {"datum": 0, "type": "quantitative", "scale": {"domain": [0, 1], "nice": false}, "axis": null},
"y2": {"datum": 1}
}},
{"mark": {"type": "rule", "color": "white", "opacity": 0.45, "strokeDash": [6, 7], "strokeWidth": 1.2},
"encoding": {"x": {"field": "d0", "type": "quantitative"}, "x2": {"field": "d1"}, "y": {"field": "f0", "type": "quantitative"}, "y2": {"field": "f1"}}}
]
}
]
}
]
}
